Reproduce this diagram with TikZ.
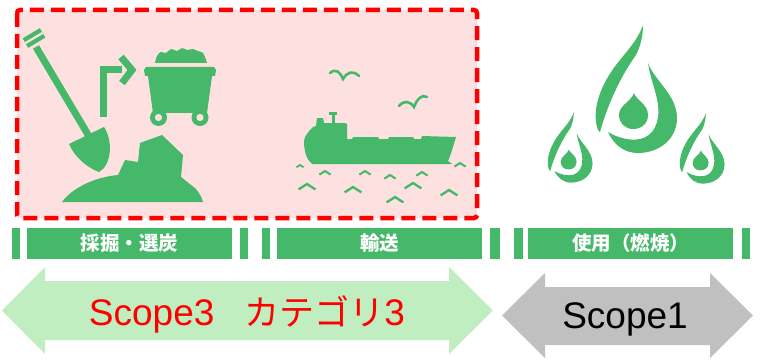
\documentclass[tikz,border=0pt]{standalone}
\usepackage{fontspec}
\newfontfamily\jpfont{Noto Sans CJK JP}
\newfontfamily\lsans{Liberation Sans}
\definecolor{icongreen}{RGB}{70,184,105}
\definecolor{bandgreen}{RGB}{70,184,105}
\definecolor{pinkbg}{RGB}{253,224,224}
\definecolor{arrowgreen}{RGB}{192,238,193}
\definecolor{arrowgray}{RGB}{192,192,192}
\tikzset{
  icon/.style={fill=icongreen},
  iconline/.style={draw=icongreen, line width=7pt},
  band/.style={fill=bandgreen, draw=none, minimum height=31pt, inner sep=0pt,
    text=white, font=\jpfont\bfseries\fontsize{19.5}{20}\selectfont},
  mainband/.style={band, minimum width=205pt},
  stub/.style={fill=bandgreen},
  wave/.style={draw=icongreen, line join=miter},
  bird/.style={draw=icongreen, line width=2.6pt, line cap=round},
  scopetext/.style={anchor=base, inner sep=0pt, font=\lsans\fontsize{37}{40}\selectfont},
  flame/.pic={
    % left stroke from the tip down the left side
    \fill[icongreen] (7,-85) .. controls (2,-70) and (-10,-58) .. (-20,-45)
      .. controls (-35,-25) and (-42,-5) .. (-40,12)
      .. controls (-39,18) and (-38,21) .. (-36,22)
      .. controls (-30,0) and (-18,-30) .. (0,-55)
      .. controls (5,-65) and (7,-75) .. (7,-85) -- cycle;
    % right piece curling round the bottom
    \fill[icongreen] (12,-47) .. controls (18,-30) and (41,-15) .. (41,8)
      .. controls (41,30) and (22,43) .. (2,43)
      .. controls (-12,43) and (-22,35) .. (-28,22)
      .. controls (-18,28) and (-6,31) .. (4,29)
      .. controls (18,26) and (24,12) .. (22,-5)
      .. controls (20,-20) and (14,-32) .. (12,-47) -- cycle;
    % inner drop
    \fill[icongreen] (-2,-17) .. controls (0,-10) and (12,-6) .. (12,5)
      .. controls (12,14) and (5,19) .. (-3,19)
      .. controls (-11,19) and (-17,13) .. (-17,5)
      .. controls (-17,-5) and (-5,-8) .. (-2,-17) -- cycle;
  }
}
\begin{document}
\begin{tikzpicture}[x=1pt,y=-1pt]
\useasboundingbox (0,0) rectangle (761,361);

% upstream stages frame
\fill[pinkbg] (17,10) rectangle (477,218);
\draw[red, line width=4.5pt, dash pattern=on 14pt off 7pt, rounded corners=3pt]
  (17,10) rectangle (477,218);

% ---- shovel ----
\fill[icon] (45.4,37.6) -- (39.8,28.2) -- (22.6,38.4) -- (28.2,47.8) -- cycle;
\draw[pinkbg, line width=2.2pt] (25.4,43.1) -- (42.6,32.9);
\draw[iconline] (36,47) -- (90,138);
\fill[icon] (69,144) -- (104,127) .. controls (113,140) and (112,165) .. (99,172)
  .. controls (88,168) and (75,158) .. (69,144) -- cycle;

% ---- bent arrow ----
\draw[iconline, line join=miter] (103.5,117) -- (103.5,70) -- (122,70);
\draw[iconline, line join=miter] (121,57) -- (132,70) -- (122,83);

% ---- mine cart ----
\fill[icon] plot[smooth, tension=0.7] coordinates {(155,63) (157,56) (161,52) (166,53) (171,49) (177,51) (182,48) (187,50) (193,49) (198,51) (203,53) (205,57) (207,63)} -- cycle;
\fill[icon] (146,67) -- (214,67) -- (216,70) -- (215,76) -- (145,76) -- (144,70) -- cycle;
\fill[icon] (148,76) -- (212,76) -- (207,113) -- (153,113) -- cycle;
\fill[icon] (158.5,117.5) circle[radius=8.5];
\fill[icon] (200,117.5) circle[radius=8.5];
\fill[pinkbg] (158.5,117.5) circle[radius=3.6];
\fill[pinkbg] (200,117.5) circle[radius=3.6];

% ---- ground and rock ----
\fill[icon] (62,202) .. controls (72,188) and (95,177) .. (118,175)
  -- (125,160) -- (138,162) -- (140,143) -- (162,135) -- (183,155)
  -- (181,177) -- (196,189) .. controls (200,194) and (202,198) .. (203,202) -- cycle;

% ---- birds ----
\draw[bird] (330,73) .. controls (336,68) and (340,72) .. (343,79)
  .. controls (347,72) and (353,70) .. (359,76);
\draw[bird] (399,106) .. controls (404,100) and (410,101) .. (414,107)
  .. controls (417,99) and (422,94) .. (427,97);

% ---- ship ----
\fill[icon] (312,164) -- (452,164) -- (448,161) -- (450,156) -- (453,147) -- (456,137)
  -- (422,136) -- (421,139) -- (414,139) -- (413,137) -- (389,137) -- (388,139)
  -- (379,139) -- (378,137) -- (353,137) -- (352,139) -- (347,139) -- (347,124)
  -- (345,123) -- (324,123) -- (323,118) -- (317,118) -- (316,126) -- (313,127)
  -- (310,130) -- (307,134) -- (305,137) -- (304,141)
  .. controls (304,152) and (307,160) .. (312,164) -- cycle;
\fill[icon] (332,114) rectangle (334.5,123.5);
\fill[icon] (329,112.5) rectangle (337,115);

% ---- waves ----
\foreach \x/\y/\s in {300/165/0.5, 325/171/0.8, 365/171/0.8, 390/175/0.8, 422/172/0.8,
    460/163/0.8, 307/184/1.2, 353/187/1.2, 413/183/1.2, 395/197/1.2, 449/190/1.2}
  \draw[wave, line width=1.5pt+0.7pt*\s] (\x-7*\s,\y+4.5*\s) -- (\x,\y) -- (\x+7*\s,\y+4.5*\s);

% ---- flames ----
\pic at (636,110) {flame};
\pic[scale=0.55] at (570,159) {flame};
\pic[scale=0.55] at (702,160) {flame};

% ---- stage bands ----
\fill[stub] (12,228) rectangle (20,259);
\node[mainband] (mining) at (129.5,243.5) {採掘・選炭};
\fill[stub] (240,228) rectangle (248,259);
\fill[stub] (262,228) rectangle (270,259);
\node[mainband] (transport) at (379.5,243.5) {輸送};
\fill[stub] (490,228) rectangle (500,259);
\fill[stub] (514,228) rectangle (523,259);
\node[mainband] (combustion) at (630.5,243.5) {使用（燃焼）};
\fill[stub] (742,228) rectangle (750,259);

% ---- scope arrows ----
\fill[arrowgreen] (2,310.5) -- (45,267) -- (45,281) -- (449,281) -- (449,267)
  -- (493,310.5) -- (449,354) -- (449,340) -- (45,340) -- (45,354) -- cycle;
\node[scopetext, text=red] (scope3) at (247,325)
  {Scope3\hspace{30pt}{\jpfont\fontsize{35}{40}\selectfont カテゴリ}3};

\fill[arrowgray] (502,315.5) -- (545,273) -- (545,287) -- (710,287) -- (710,273)
  -- (753,315.5) -- (710,358) -- (710,345) -- (545,345) -- (545,358) -- cycle;
\node[scopetext, text=black] (scope1) at (625,328) {Scope1};
\end{tikzpicture}
\end{document}
